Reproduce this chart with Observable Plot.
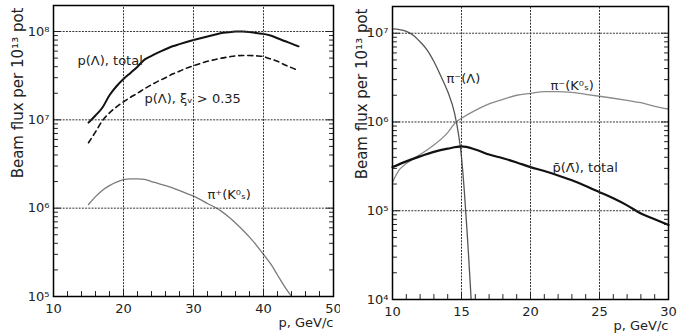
<!DOCTYPE html>
<html>
<head>
<meta charset="utf-8">
<script src="https://cdn.jsdelivr.net/npm/d3@7"></script>
<script src="https://cdn.jsdelivr.net/npm/@observablehq/plot@0.6"></script>
<style>
  html, body { margin: 0; padding: 0; background: #fff; }
  #wrap { display: flex; width: 681px; height: 334px; }
  #wrap svg { font-family: "DejaVu Sans", sans-serif; font-size: 13px; color: #222; background: #fff; overflow: visible; }
</style>
</head>
<body>
<div id="wrap"></div>
<script>
// ---------- Left panel data ----------
const leftP = [15,16,17,18,19,20,21,22,23,24,25,26,27,28,29,30,31,32,33,34,35,36,37,38,39,40,41,42,43,44,45];
const lambdaTotal = [9.3e6,1.12e7,1.38e7,1.9e7,2.4e7,2.9e7,3.4e7,4.0e7,4.8e7,5.3e7,5.8e7,6.3e7,6.8e7,7.2e7,7.6e7,8.0e7,8.4e7,8.8e7,9.2e7,9.6e7,9.8e7,1.0e8,1.0e8,9.9e7,9.6e7,9.4e7,9.0e7,8.4e7,7.8e7,7.3e7,6.8e7];
const lambdaXi = [5.5e6,7.3e6,9.8e6,1.2e7,1.4e7,1.6e7,1.8e7,2.0e7,2.25e7,2.5e7,2.75e7,3.0e7,3.3e7,3.55e7,3.85e7,4.1e7,4.35e7,4.6e7,4.8e7,5.0e7,5.15e7,5.3e7,5.35e7,5.35e7,5.3e7,5.2e7,4.9e7,4.6e7,4.2e7,3.9e7,3.6e7];
const piPlusP = [15,16,17,18,19,20,21,22,23,24,25,26,27,28,29,30,31,32,33,34,35,36,37,38,39,40,41,42,43,44];
const piPlusK0 = [1.1e6,1.35e6,1.6e6,1.8e6,1.97e6,2.1e6,2.15e6,2.15e6,2.12e6,2.0e6,1.9e6,1.8e6,1.7e6,1.58e6,1.47e6,1.37e6,1.25e6,1.13e6,1.03e6,9.2e5,8.0e5,6.8e5,5.7e5,4.7e5,3.8e5,3.0e5,2.35e5,1.75e5,1.3e5,1.0e5];
const leftXTicks = [10,20,30,40,50];
const leftXGrid = [20,30,40];
const leftXMinor = [12,14,16,18,22,24,26,28,32,34,36,38,42,44,46,48];
const leftYTicks = [1e5,1e6,1e7,1e8];
const leftYGrid = [1e6,1e7,1e8];

// ---------- Right panel data ----------
const piMinusLambdaP = [10,10.5,11,11.5,12,12.5,13,13.5,14,14.5,14.8,15.0,15.2,15.4,15.55,15.7];
const piMinusLambda = [1.12e7,1.1e7,1.05e7,9.5e6,8.0e6,6.5e6,4.8e6,3.3e6,2.2e6,1.25e6,7e5,4e5,1.7e5,6e4,2.5e4,1e4];
const piMinusK0P = [10,10.5,11,12,13,14,14.6,15,16,17,18,19,20,21,22,23,24,25,26,27,28,29,30];
const piMinusK0 = [2.1e5,2.9e5,3.4e5,4.3e5,5.5e5,7.6e5,1.0e6,1.1e6,1.35e6,1.6e6,1.8e6,2.0e6,2.1e6,2.2e6,2.2e6,2.15e6,2.05e6,1.95e6,1.85e6,1.75e6,1.65e6,1.5e6,1.4e6];
const pbarP = [10,11,12,13,14,15,16,17,18,19,20,21,22,23,24,25,26,27,28,29,30];
const pbarTotal = [3.1e5,3.6e5,4.1e5,4.6e5,5.0e5,5.3e5,4.9e5,4.3e5,3.9e5,3.5e5,3.1e5,2.8e5,2.5e5,2.2e5,1.9e5,1.62e5,1.38e5,1.15e5,9.3e4,8.0e4,6.9e4];
const rightXTicks = [10,15,20,25,30];
const rightXGrid = [15,20,25];
const rightXMinor = [11,12,13,14,16,17,18,19,21,22,23,24,26,27,28,29];
const rightYTicks = [1e4,1e5,1e6,1e7];
const rightYGrid = [1e5,1e6,1e7];

const yLabel = "Beam flux per 10¹³ pot";
const xLabel = "p, GeV/c";

const supDigits = {"0":"⁰","1":"¹","2":"²","3":"³","4":"⁴","5":"⁵","6":"⁶","7":"⁷","8":"⁸","9":"⁹"};
const powFmt = d => "10" + String(Math.round(Math.log10(d))).split("").map(c => supDigits[c]).join("");

function minorDecades(lo, hi) {
  const out = [];
  for (let e = lo; e < hi; e++) for (let m = 2; m <= 9; m++) out.push(m * Math.pow(10, e));
  return out;
}

function panel(cfg) {
  const pw = cfg.width - cfg.ml - cfg.mr;
  const ph = cfg.height - cfg.mt - cfg.mb;
  const [x0, x1] = cfg.xDomain;
  const [y0, y1] = cfg.yDomain;
  const kx = (x1 - x0) / pw;                       // data units per pixel (x)
  const ky = Math.log10(y1 / y0) / ph;             // decades per pixel (y)
  const yMinor = minorDecades(cfg.decLo, cfg.decHi).filter(v => v <= y1);
  const seg = [];
  let id = 0;
  const add = (a, b) => { id++; seg.push({id, x: a[0], y: a[1]}, {id, x: b[0], y: b[1]}); };
  // inward ticks on left/right edges and bottom
  yMinor.forEach(v => { add([x0, v], [x0 + 4 * kx, v]); add([x1 - 4 * kx, v], [x1, v]); });
  cfg.yTicks.forEach(v => { add([x0, v], [x0 + 7 * kx, v]); add([x1 - 7 * kx, v], [x1, v]); });
  cfg.xMinor.forEach(v => add([v, y0], [v, y0 * Math.pow(10, 5 * ky)]));
  cfg.xTicks.forEach(v => add([v, y0], [v, y0 * Math.pow(10, 7 * ky)]));
  const grid = [];
  cfg.xGrid.forEach(v => { id++; grid.push({id, x: v, y: y0}, {id, x: v, y: y1}); });
  cfg.yGrid.forEach(v => { id++; grid.push({id, x: x0, y: v}, {id, x: x1, y: v}); });

  return Plot.plot({
    width: cfg.width, height: cfg.height,
    marginLeft: cfg.ml, marginRight: cfg.mr, marginTop: cfg.mt, marginBottom: cfg.mb,
    x: {domain: cfg.xDomain},
    y: {type: "log", domain: cfg.yDomain},
    marks: [
      ...cfg.series.map(s => Plot.line(s.x.map((x, i) => ({x, y: s.y[i]})), {
        x: "x", y: "y", stroke: s.color, strokeWidth: s.width, strokeDasharray: s.dash,
        curve: "monotone-x"
      })),
      Plot.line(grid, {x: "x", y: "y", z: "id", stroke: "#333", strokeWidth: 1, strokeDasharray: "1.2,2"}),
      Plot.line(seg, {x: "x", y: "y", z: "id", stroke: "#222", strokeWidth: 1}),
      ...cfg.labels.map(l => Plot.text([l.text], {
        frameAnchor: "top-left", dx: l.x - cfg.ml, dy: l.y - cfg.mt,
        text: d => d, textAnchor: "start", fontSize: 13, fill: "#222"
      })),
      Plot.frame({stroke: "black", strokeWidth: 1.5}),
      Plot.axisX(cfg.xTicks, {tickSize: 0, tickPadding: 7, tickFormat: d => String(d), label: null, fontSize: 13, fill: "#222"}),
      Plot.axisY(cfg.yTicks, {tickSize: 0, tickPadding: 4, tickFormat: powFmt, label: null, fontSize: 13, fill: "#222"}),
      Plot.text([xLabel], {frameAnchor: "bottom-right", dy: cfg.xLabDy, text: d => d, textAnchor: "end", fontSize: 13, fill: "#222"}),
      Plot.text([yLabel], {frameAnchor: "top-left", dx: cfg.yLabX - cfg.ml, dy: 2, rotate: -90, text: d => d, textAnchor: "end", fontSize: 15, fill: "#222"})
    ]
  });
}

const left = panel({
  width: 340, height: 334, ml: 53, mr: 7, mt: 5, mb: 38,
  xDomain: [10, 50], yDomain: [1e5, 1.97e8], decLo: 5, decHi: 9,
  xTicks: leftXTicks, xGrid: leftXGrid, xMinor: leftXMinor, yTicks: leftYTicks, yGrid: leftYGrid,
  xLabDy: 30, yLabX: 12,
  series: [
    {x: leftP, y: lambdaTotal, color: "#111", width: 2},
    {x: leftP, y: lambdaXi, color: "#111", width: 1.6, dash: "5,4"},
    {x: piPlusP, y: piPlusK0, color: "#7a7a7a", width: 1.3}
  ],
  labels: [
    {text: "p(Λ), total", x: 77, y: 55},
    {text: "p(Λ), ξᵥ > 0.35", x: 144, y: 93},
    {text: "π⁺(K⁰ₛ)", x: 207, y: 189}
  ]
});

const right = panel({
  width: 341, height: 334, ml: 52, mr: 13, mt: 6, mb: 35,
  xDomain: [10, 30], yDomain: [1e4, 2.0e7], decLo: 4, decHi: 8,
  xTicks: rightXTicks, xGrid: rightXGrid, xMinor: rightXMinor, yTicks: rightYTicks, yGrid: rightYGrid,
  xLabDy: 30, yLabX: 16,
  series: [
    {x: piMinusLambdaP, y: piMinusLambda, color: "#555", width: 1.3},
    {x: piMinusK0P, y: piMinusK0, color: "#8a8a8a", width: 1.3},
    {x: pbarP, y: pbarTotal, color: "#111", width: 2.2}
  ],
  labels: [
    {text: "π⁻(Λ)", x: 106, y: 73},
    {text: "π⁻(K⁰ₛ)", x: 210, y: 80},
    {text: "p̄(Λ̄), total", x: 212, y: 162}
  ]
});

document.getElementById("wrap").append(left, right);
</script>
</body>
</html>
